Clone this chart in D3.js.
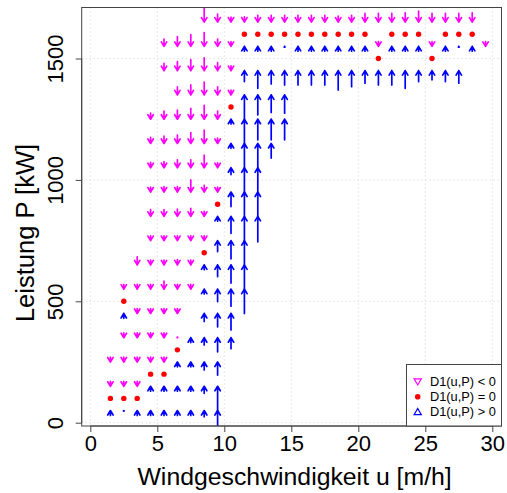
<!DOCTYPE html>
<html>
<head>
<meta charset="utf-8">
<script src="https://d3js.org/d3.v7.min.js"></script>
<style>
  body { margin: 0; background: #fff; }
  text { font-family: "Liberation Sans", Arial, sans-serif; fill: #000; }
</style>
</head>
<body>
<div id="chart"></div>
<script>
// grid of the vector field: wind speed u (columns) and power P (rows, arrow tips)
const uValues = [1.5, 2.5, 3.5, 4.5, 5.5, 6.5, 7.5, 8.5, 9.5, 10.5, 11.5, 12.5, 13.5, 14.5, 15.5,
                 16.5, 17.5, 18.5, 19.5, 20.5, 21.5, 22.5, 23.5, 24.5, 25.5, 26.5, 27.5, 28.5, 29.5];
const pRows = [50, 150, 250, 350, 450, 550, 650, 750, 850, 950, 1050, 1150, 1250, 1350, 1450, 1550, 1650];

// signed arrow length (kW) per column, one value per row in pRows; null = no arrow
const n = null;
const d1 = [
  [20, -20, -20, n, n, n, n, n, n, n, n, n, n, n, n, n, n],
  [2, -20, -20, -20, 20, -20, n, n, n, n, n, n, n, n, n, n, n],
  [20, -20, -20, -20, -20, -20, -33, n, n, n, n, n, n, n, n, n, n],
  [20, 20, -20, -20, -20, -20, -20, -20, -28, -20, -22, -25, -25, n, n, n, n],
  [20, 20, -20, -20, -20, -33, -20, -20, -28, -22, -25, -30, -33, n, -30, -30, n],
  [20, 20, 20, -2, -20, -20, -22, -20, -30, -22, -33, -35, -37, -33, -37, -40, n],
  [20, 20, 20, 20, n, -20, -20, -20, -33, -50, -33, -45, -45, -41, -45, -48, n],
  [25, 29, 33, 30, 33, 20, 20, -20, -20, -28, -52, -55, -57, -53, -53, -57, -57],
  [65, 100, 54, 58, 55, 51, 48, 45, 20, -20, -20, -22, -33, -33, -33, -30, -33],
  [n, n, n, 45, 68, 70, 75, 75, 70, 60, 28, 20, 20, -20, -20, -20, -20],
  [n, n, n, n, n, 100, 102, 102, 102, 102, 102, 102, 102, 100, 45, 20, -22],
  [n, n, n, n, n, n, n, n, 105, 102, 102, 100, 85, 82, 73, 20, -28],
  [n, n, n, n, n, n, n, n, n, n, n, 60, 85, 72, 55, 20, -28],
  [n, n, n, n, n, n, n, n, n, n, n, n, 85, 75, 59, 3, -28],
  [n, n, n, n, n, n, n, n, n, n, n, n, n, n, 59, 20, -28],
  [n, n, n, n, n, n, n, n, n, n, n, n, n, n, 59, 20, -28],
  [n, n, n, n, n, n, n, n, n, n, n, n, n, n, 59, 20, -28],
  [n, n, n, n, n, n, n, n, n, n, n, n, n, n, 80, 20, -25],
  [n, n, n, n, n, n, n, n, n, n, n, n, n, n, 66, 20, -28],
  [n, n, n, n, n, n, n, n, n, n, n, n, n, n, 52, 20, -36],
  [n, n, n, n, n, n, n, n, n, n, n, n, n, n, 59, -20, -36],
  [n, n, n, n, n, n, n, n, n, n, n, n, n, n, 59, 20, -36],
  [n, n, n, n, n, n, n, n, n, n, n, n, n, n, 73, 20, -38],
  [n, n, n, n, n, n, n, n, n, n, n, n, n, n, 45, 20, -45],
  [n, n, n, n, n, n, n, n, n, n, n, n, n, n, 38, -20, -36],
  [n, n, n, n, n, n, n, n, n, n, n, n, n, n, 45, 20, -36],
  [n, n, n, n, n, n, n, n, n, n, n, n, n, n, 52, 3, -36],
  [n, n, n, n, n, n, n, n, n, n, n, n, n, n, n, 20, -38],
  [n, n, n, n, n, n, n, n, n, n, n, n, n, n, n, -20, n]
];

// points where D1(u,P) = 0
const zeroU = [1.5, 2.5, 3.5, 2.5, 4.5, 5.5, 6.5, 8.5, 9.5, 10.5,
               11.5, 12.5, 13.5, 14.5, 15.5, 16.5, 17.5, 18.5, 19.5, 20.5,
               21.5, 22.5, 23.5, 24.5, 25.5, 26.5, 27.5, 28.5];
const zeroP = [100, 100, 100, 500, 200, 200, 300, 700, 900, 1300,
               1600, 1600, 1600, 1600, 1600, 1600, 1600, 1600, 1600, 1600,
               1500, 1600, 1600, 1600, 1500, 1600, 1600, 1600];

const xTicks = [0, 5, 10, 15, 20, 25, 30];
const yTicks = [0, 500, 1000, 1500];
const legendLabels = ["D1(u,P) < 0", "D1(u,P) = 0", "D1(u,P) > 0"];

const W = 507, H = 493;
const box = { left: 81.7, right: 501.5, top: 7.5, bottom: 426 };
const colNeg = "#ff00ff", colPos = "#0000ff", colZero = "#ff0000";

const x = d3.scaleLinear().domain([0, 30]).range([90.3, 492.3]);
const y = d3.scaleLinear().domain([0, 1500]).range([422.7, 58.5]);

const svg = d3.select("#chart").append("svg")
  .attr("width", W).attr("height", H);

svg.append("defs").append("clipPath").attr("id", "plotclip")
  .append("rect")
  .attr("x", box.left).attr("y", box.top)
  .attr("width", box.right - box.left).attr("height", box.bottom - box.top);

// dotted grid
const grid = svg.append("g")
  .attr("stroke", "#d3d3d3").attr("stroke-width", 1).attr("stroke-dasharray", "1,3");
grid.selectAll(".gx").data(xTicks).join("line")
  .attr("x1", d => x(d)).attr("x2", d => x(d))
  .attr("y1", box.top).attr("y2", box.bottom);
grid.selectAll(".gy").data(yTicks).join("line")
  .attr("x1", box.left).attr("x2", box.right)
  .attr("y1", d => y(d)).attr("y2", d => y(d));

// arrows
const arrows = [];
d1.forEach((col, i) => {
  col.forEach((d, j) => {
    if (d !== null) arrows.push({ u: uValues[i], p: pRows[j], d: d });
  });
});

const arrowPath = a => {
  const cx = x(a.u);
  const tip = y(a.p);
  const tail = y(a.p - a.d);
  const len = Math.abs(tail - tip);
  const h = Math.min(4.5, len);
  const hw = h * 0.6;
  const wy = a.d > 0 ? tip + h : tip - h;
  return `M${cx},${tail}L${cx},${tip}M${cx - hw},${wy}L${cx},${tip}L${cx + hw},${wy}`;
};

svg.append("g").attr("clip-path", "url(#plotclip)")
  .selectAll("path").data(arrows).join("path")
  .attr("d", arrowPath)
  .attr("fill", "none")
  .attr("stroke", a => a.d < 0 ? colNeg : colPos)
  .attr("stroke-width", 1.7)
  .attr("stroke-linecap", "round")
  .attr("stroke-linejoin", "round");

// zero points
svg.append("g").selectAll("circle").data(zeroU).join("circle")
  .attr("cx", (u) => x(u))
  .attr("cy", (u, i) => y(zeroP[i]))
  .attr("r", 2.7)
  .attr("fill", colZero);

// box
svg.append("rect")
  .attr("x", box.left).attr("y", box.top)
  .attr("width", box.right - box.left).attr("height", box.bottom - box.top)
  .attr("fill", "none").attr("stroke", "#444").attr("stroke-width", 1);

// axes
const xAxis = d3.axisBottom(x).tickValues(xTicks).tickSize(6).tickPadding(3)
  .tickFormat(d3.format("d"));
svg.append("g").attr("transform", `translate(0,${box.bottom})`).call(xAxis)
  .call(g => g.select(".domain").attr("d", `M${x(0)},0H${x(30)}`).attr("stroke", "#444"))
  .call(g => g.selectAll(".tick line").attr("stroke", "#444"))
  .call(g => g.selectAll(".tick text")
    .attr("font-family", '"Liberation Sans", Arial, sans-serif')
    .attr("font-size", 22).attr("fill", "#000"));

const yAxis = d3.axisLeft(y).tickValues(yTicks).tickSize(6)
  .tickFormat(d3.format("d"));
svg.append("g").attr("transform", `translate(${box.left},0)`).call(yAxis)
  .call(g => g.select(".domain").attr("d", `M0,${y(0)}V${y(1500)}`).attr("stroke", "#444"))
  .call(g => g.selectAll(".tick line").attr("stroke", "#444"))
  .call(g => g.selectAll(".tick text")
    .attr("font-family", '"Liberation Sans", Arial, sans-serif')
    .attr("font-size", 22).attr("fill", "#000")
    .attr("x", null).attr("dy", null)
    .attr("text-anchor", "middle")
    .attr("transform", "translate(-19,0) rotate(-90)"));

// axis titles
svg.append("text")
  .attr("x", (box.left + box.right) / 2 + 3).attr("y", 485)
  .attr("text-anchor", "middle").attr("font-size", 24.8)
  .text("Windgeschwindigkeit u [m/h]");

svg.append("text")
  .attr("transform", `translate(34,${233}) rotate(-90)`)
  .attr("text-anchor", "middle").attr("font-size", 25.5)
  .text("Leistung P [kW]");

// legend
const lg = svg.append("g");
lg.append("rect")
  .attr("x", 406.5).attr("y", 364.5)
  .attr("width", box.right - 406.5).attr("height", box.bottom - 364.5)
  .attr("fill", "#fff").attr("stroke", "#444").attr("stroke-width", 1);

const legendRows = [381.7, 396.7, 411.7];
const sx = 417.7, s = 3.6;
lg.append("path")
  .attr("d", `M${sx - s},${legendRows[0] - s * 0.8}L${sx + s},${legendRows[0] - s * 0.8}L${sx},${legendRows[0] + s * 0.9}Z`)
  .attr("fill", "none").attr("stroke", colNeg).attr("stroke-width", 1.2);
lg.append("circle").attr("cx", sx).attr("cy", legendRows[1]).attr("r", 2.8).attr("fill", colZero);
lg.append("path")
  .attr("d", `M${sx - s},${legendRows[2] + s * 0.8}L${sx + s},${legendRows[2] + s * 0.8}L${sx},${legendRows[2] - s * 0.9}Z`)
  .attr("fill", "none").attr("stroke", colPos).attr("stroke-width", 1.2);

lg.selectAll(".lt").data(legendLabels).join("text")
  .attr("x", 430).attr("y", (d, i) => legendRows[i])
  .attr("dy", "0.35em").attr("font-size", 12.8)
  .text(d => d);
</script>
</body>
</html>
